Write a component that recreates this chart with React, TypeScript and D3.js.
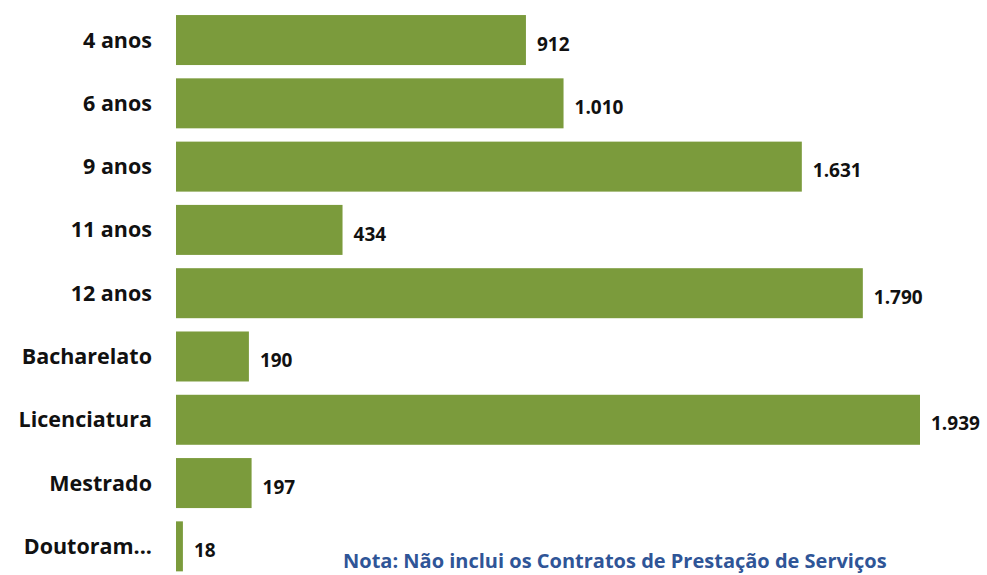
import React from 'react';
import * as d3 from 'd3';

const categories = ['4 anos', '6 anos', '9 anos', '11 anos', '12 anos', 'Bacharelato', 'Licenciatura', 'Mestrado', 'Doutoram...'];
const values = [912, 1010, 1631, 434, 1790, 190, 1939, 197, 18];
const valueLabels = ['912', '1.010', '1.631', '434', '1.790', '190', '1.939', '197', '18'];
const note = 'Nota: Não inclui os Contratos de Prestação de Serviços';

const width = 987;
const height = 575;
const barColor = '#7b9b3c';
const font = '"Open Sans", Lato, sans-serif';

const App = () => {
  // eixo horizontal: 0 -> maior valor
  const x = d3.scaleLinear()
    .domain([0, d3.max(values) as number])
    .range([176, 920]);

  const y = d3.scaleBand<string>()
    .domain(categories)
    .range([8.4, 578])
    .paddingInner(0.21)
    .paddingOuter(0.105);

  return (
    <div style={{ position: 'fixed', left: 0, top: 0 }}>
      <svg width={width} height={height} style={{ display: 'block', background: '#fff' }}>
        {categories.map((c, i) => {
          const y0 = y(c) as number;
          const cy = y0 + y.bandwidth() / 2;
          return (
            <g key={c}>
              <rect x={x(0)} y={y0} width={Math.max(x(values[i]) - x(0), 4)} height={y.bandwidth()} fill={barColor} />
              <text x={152} y={cy} dy="0.35em" textAnchor="end"
                fontFamily={font} fontWeight="bold" fontSize={21.5} fill="#111">{c}</text>
              <text x={Math.max(x(values[i]), x(0) + 4) + 11} y={cy + 4} dy="0.35em"
                fontFamily={font} fontWeight="bold" fontSize={19} fill="#111">{valueLabels[i]}</text>
            </g>
          );
        })}
        {/* nota no rodapé */}
        <text x={343} y={568} fontFamily={font} fontWeight="bold" fontSize={20} fill="#2f5597">{note}</text>
      </svg>
    </div>
  );
};

export default App;
